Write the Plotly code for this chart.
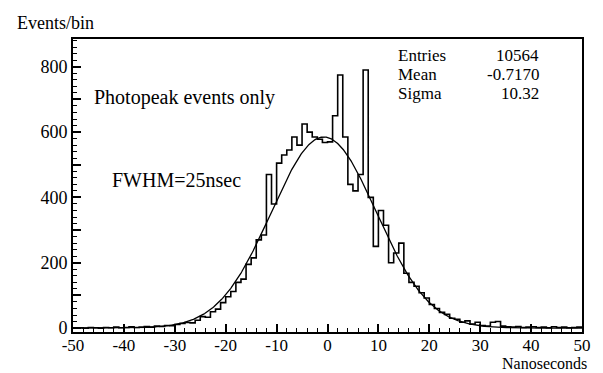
import numpy as np
import plotly.graph_objects as go

# Timing histogram: 1 ns bins from -50 to 50 ns
bin_lo = -50.0
bin_width = 1.0
counts = [
    0, 1, 0, 2, 1, 0, 2, 1, 3, 1,
    2, 4, 2, 3, 5, 3, 6, 5, 8, 7,
    11, 14, 17, 16, 24, 35, 33, 50, 58, 78,
    96, 112, 140, 150, 195, 215, 270, 285, 470, 380,
    505, 530, 545, 585, 560, 625, 600, 585, 578, 568,
    570, 650, 775, 585, 440, 420, 470, 790, 400, 250,
    360, 315, 200, 230, 260, 168, 140, 128, 108, 92,
    72, 60, 48, 42, 30, 27, 18, 22, 12, 18,
    8, 6, 18, 20, 6, 4, 3, 5, 2, 3,
    4, 2, 3, 1, 4, 2, 3, 1, 2, 3,
]

# Gaussian fit parameters
fit_amp = 585.0
fit_mean = -0.717
fit_sigma = 10.32

stats_labels = ["Entries", "Mean", "Sigma"]
stats_values = ["10564", "-0.7170", "10.32"]

x_ticks = [-50, -40, -30, -20, -10, 0, 10, 20, 30, 40, 50]
x_tick_text = ["-50", "-40", "-30", "-20", "-10", "0", "10", "20", "30", "40", "50"]
y_ticks = [0, 100, 200, 300, 400, 500, 600, 700, 800]
y_tick_text = ["0", "", "200", "", "400", "", "600", "", "800"]

# Step outline through bin edges
edges = bin_lo + bin_width * np.arange(len(counts) + 1)
step_y = list(counts) + [counts[-1]]

xf = np.linspace(-50, 50, 801)
yf = fit_amp * np.exp(-0.5 * ((xf - fit_mean) / fit_sigma) ** 2)

FONT = "Liberation Serif"

fig = go.Figure()
fig.add_trace(go.Scatter(x=edges, y=step_y, mode="lines", line_shape="hv",
                         line=dict(color="black", width=1.6), hoverinfo="skip"))
fig.add_trace(go.Scatter(x=xf, y=yf, mode="lines",
                         line=dict(color="black", width=1.3), hoverinfo="skip"))


def note(text, x, y, xanchor, size):
    return dict(text=text, x=x, y=y, xref="paper", yref="paper",
                xanchor=xanchor, yanchor="middle", showarrow=False,
                font=dict(family=FONT, size=size, color="black"))


ann = [
    note("Events/bin", -0.113, 1.055, "left", 18),
    note("Nanoseconds", 1.014, -0.106, "right", 16),
    note("Photopeak events only", 0.037, 0.80, "left", 20),
    note("FWHM=25nsec", 0.072, 0.52, "left", 20),
]
for i, (lab, val) in enumerate(zip(stats_labels, stats_values)):
    yy = 0.945 - i * 0.065
    ann.append(note(lab, 0.635, yy, "left", 17))
    ann.append(note(val, 0.92, yy, "right", 17))

fig.update_layout(
    width=603, height=373,
    margin=dict(l=73, r=15, t=39, b=41),
    paper_bgcolor="white", plot_bgcolor="white",
    showlegend=False,
    font=dict(family=FONT, size=18, color="black"),
    annotations=ann,
)
fig.update_xaxes(
    range=[-50, 50], tickvals=x_ticks, ticktext=x_tick_text, ticks="inside",
    ticklen=8, tickwidth=1.5, tickcolor="black", showline=True, linecolor="black",
    linewidth=2, mirror=True, showgrid=False, zeroline=False, ticklabelstandoff=-3,
    minor=dict(dtick=2, ticks="inside", ticklen=4, tickwidth=1.2, tickcolor="black"),
    tickfont=dict(family=FONT, size=17, color="black"),
)
fig.update_yaxes(
    range=[-12, 885], tickvals=y_ticks, ticktext=y_tick_text, ticks="inside",
    ticklen=8, tickwidth=1.5, tickcolor="black", showline=True, linecolor="black",
    linewidth=2, mirror=True, showgrid=False, zeroline=False,
    minor=dict(dtick=20, ticks="inside", ticklen=4, tickwidth=1.2, tickcolor="black"),
    tickfont=dict(family=FONT, size=18, color="black"),
)

fig.write_html("out.html")
